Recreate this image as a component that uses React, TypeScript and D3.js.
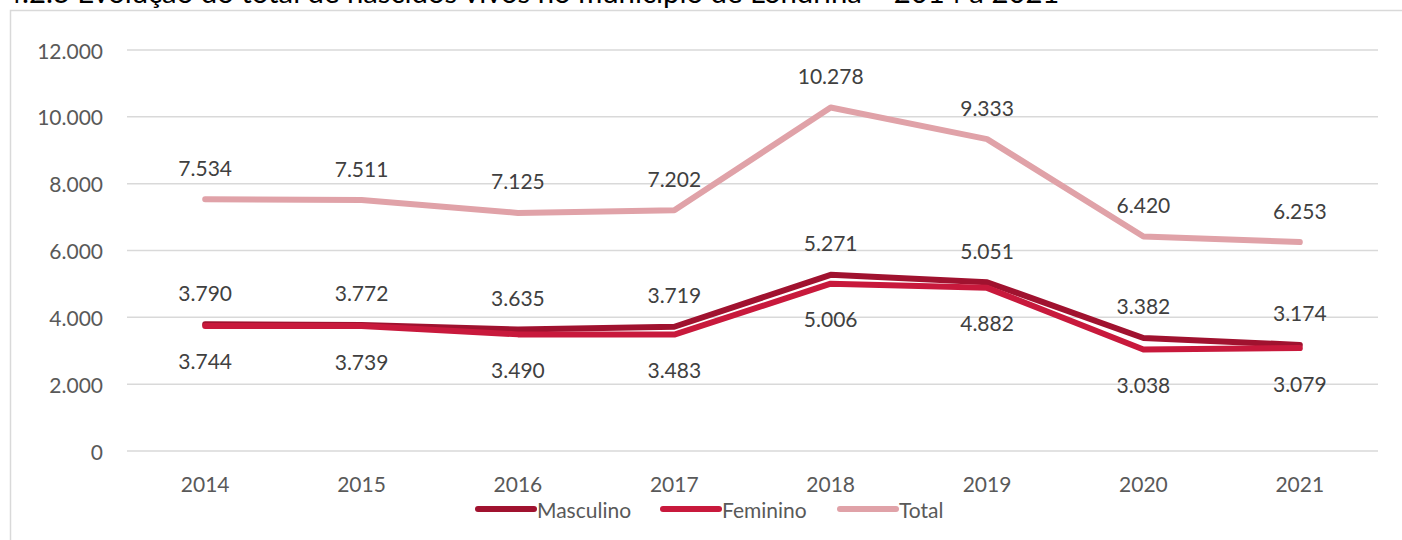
import React from "react";
import * as d3 from "d3";

const years = ["2014", "2015", "2016", "2017", "2018", "2019", "2020", "2021"];
const masculino = [3790, 3772, 3635, 3719, 5271, 5051, 3382, 3174];
const feminino = [3744, 3739, 3490, 3483, 5006, 4882, 3038, 3079];
const total = [7534, 7511, 7125, 7202, 10278, 9333, 6420, 6253];
const yTicks = [0, 2000, 4000, 6000, 8000, 10000, 12000];
const seriesNames = ["Masculino", "Feminino", "Total"];
const title = "4.2.3 Evolução do total de nascidos vivos no município de Londrina – 2014 a 2021";

const W = 1402;
const H = 540;
const FONT = "Lato, 'Open Sans', sans-serif";
const FS = 21;
const colors = ["#A0122F", "#C8193C", "#E0A2A8"];

const fmt = (v: number) => d3.format(",")(v).replace(/,/g, ".");

export default function App() {
  const x = d3.scaleBand<string>().domain(years).range([127, 1378]);
  const y = d3.scaleLinear().domain([0, 12000]).range([451, 50]);
  const cx = (d: string) => (x(d) as number) + x.bandwidth() / 2;
  const line = d3
    .line<number>()
    .x((_, i) => cx(years[i]))
    .y((v) => y(v));

  const series = [masculino, feminino, total];
  const labelOffset = [-32, 35, -32];
  const legendX = [478, 663, 840];

  return (
    <svg
      width={W}
      height={H}
      style={{ position: "absolute", left: 0, top: 0, background: "#fff" }}
    >
      <text x={5} y={3} fontFamily={FONT} fontSize={29.3} fill="#000">
        {title}
      </text>
      <path d={`M10.5,${H} V10.5 H${W}`} fill="none" stroke="#D9D9D9" strokeWidth={1.5} />
      {yTicks.map((t) => (
        <g key={t}>
          <line x1={127} x2={1378} y1={y(t)} y2={y(t)} stroke="#D9D9D9" strokeWidth={1.5} />
          <text
            x={103}
            y={y(t)}
            textAnchor="end"
            dominantBaseline="central"
            fontFamily={FONT}
            fontSize={FS}
            fill="#595959"
          >
            {fmt(t)}
          </text>
        </g>
      ))}
      {years.map((yr) => (
        <text
          key={yr}
          x={cx(yr)}
          y={483}
          textAnchor="middle"
          dominantBaseline="central"
          fontFamily={FONT}
          fontSize={FS}
          fill="#595959"
        >
          {yr}
        </text>
      ))}
      {[2, 0, 1].map((si) => (
        <path
          key={si}
          d={line(series[si]) || ""}
          fill="none"
          stroke={colors[si]}
          strokeWidth={6}
          strokeLinecap="round"
          strokeLinejoin="round"
        />
      ))}
      {series.map((s, si) =>
        s.map((v, i) => (
          <text
            key={`${si}-${i}`}
            x={cx(years[i])}
            y={y(v) + labelOffset[si]}
            textAnchor="middle"
            dominantBaseline="central"
            fontFamily={FONT}
            fontSize={FS}
            fill="#404040"
          >
            {fmt(v)}
          </text>
        ))
      )}
      {seriesNames.map((n, i) => (
        <g key={n}>
          <line
            x1={legendX[i]}
            x2={legendX[i] + 56}
            y1={509}
            y2={509}
            stroke={colors[i]}
            strokeWidth={6}
            strokeLinecap="round"
          />
          <text
            x={legendX[i] + 59}
            y={509}
            dominantBaseline="central"
            fontFamily={FONT}
            fontSize={FS}
            fill="#595959"
          >
            {n}
          </text>
        </g>
      ))}
    </svg>
  );
}
